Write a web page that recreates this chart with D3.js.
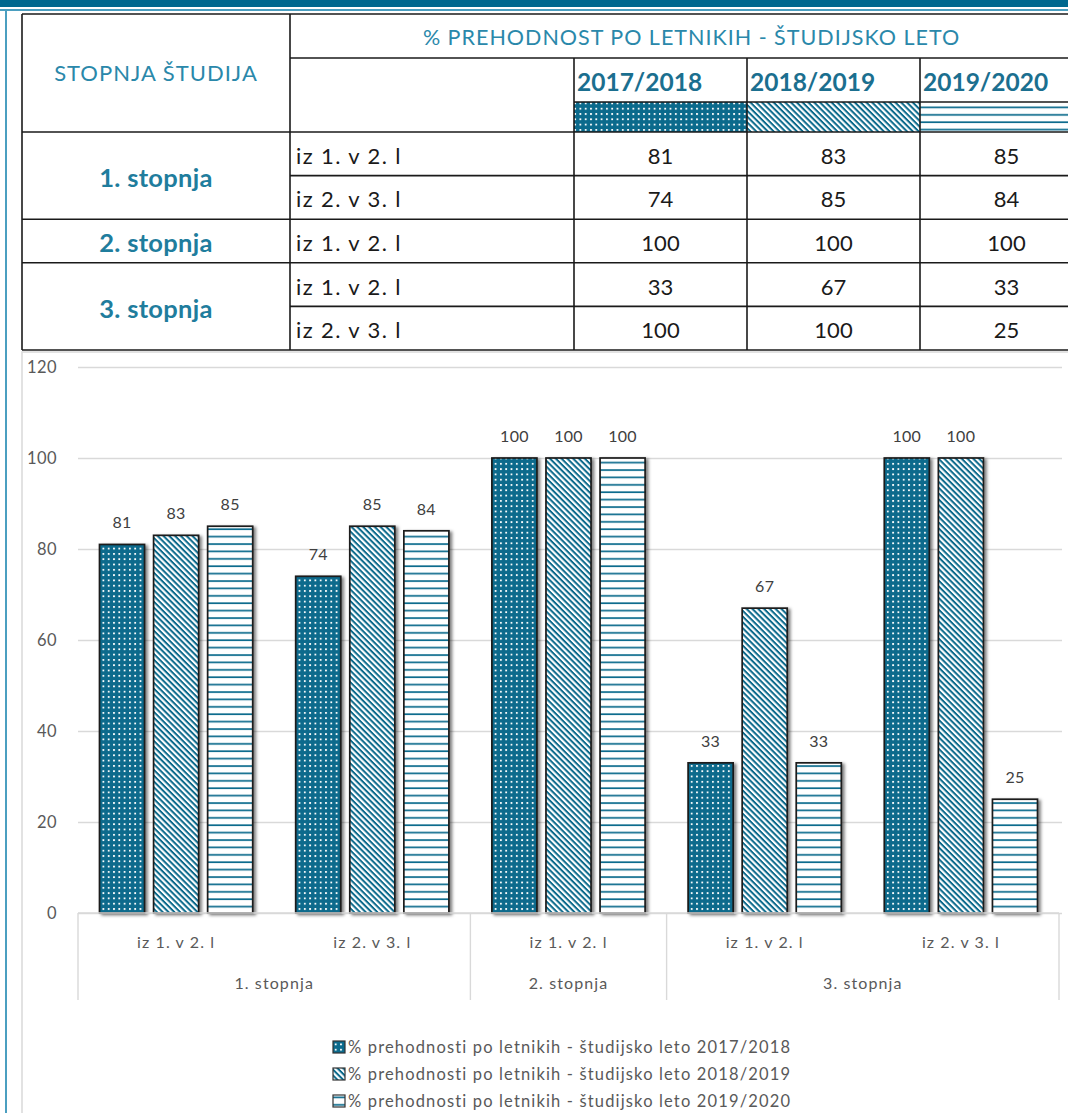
<!DOCTYPE html>
<html lang="sl">
<head>
<meta charset="UTF-8">
<title>Prehodnost po letnikih</title>
<style>
  body { margin: 0; background: #fff; }
  text { font-family: Lato, "Noto Sans", sans-serif; }
</style>
</head>
<body>
<svg id="chart" width="1068" height="1113"></svg>
<script src="https://d3js.org/d3.v7.min.js"></script>
<script>
/* global d3 */

const stages = ["1. stopnja", "1. stopnja", "2. stopnja", "3. stopnja", "3. stopnja"];
const rowLabels = ["iz 1. v 2. l", "iz 2. v 3. l", "iz 1. v 2. l", "iz 1. v 2. l", "iz 2. v 3. l"];
const years = ["2017/2018", "2018/2019", "2019/2020"];
const v2017 = [81, 74, 100, 33, 100];
const v2018 = [83, 85, 100, 67, 100];
const v2019 = [85, 84, 100, 33, 25];
const yTicks = [0, 20, 40, 60, 80, 100, 120];
const series = [v2017, v2018, v2019];

const teal = "#0b6a8c",
    textTeal = "#2a88aa",
    gray = "#595959",
    svg = d3.select("#chart");

// patterns: dots / diagonal / horizontal
const defs = svg.append("defs");
let p = defs.append("pattern").attr("id", "pat0").attr("patternUnits", "userSpaceOnUse")
    .attr("width", 5.3).attr("height", 5.3);
p.append("rect").attr("width", 5.3).attr("height", 5.3).attr("fill", teal);
p.append("rect").attr("x", 1.8).attr("y", 1.8).attr("width", 1.8).attr("height", 1.8).attr("fill", "#fff");

p = defs.append("pattern").attr("id", "pat1").attr("patternUnits", "userSpaceOnUse")
    .attr("width", 10).attr("height", 4.1).attr("patternTransform", "rotate(45)");
p.append("rect").attr("width", 10).attr("height", 4.1).attr("fill", "#fff");
p.append("rect").attr("width", 10).attr("height", 2).attr("fill", teal);

p = defs.append("pattern").attr("id", "pat2").attr("patternUnits", "userSpaceOnUse")
    .attr("width", 10).attr("height", 7.4);
p.append("rect").attr("width", 10).attr("height", 7.4).attr("fill", "#fff");
p.append("rect").attr("y", 3).attr("width", 10).attr("height", 1.7).attr("fill", teal);

const shadow = defs.append("filter").attr("id", "shadow")
    .attr("x", "-20%").attr("y", "-5%").attr("width", "150%").attr("height", "115%");
shadow.append("feDropShadow").attr("dx", 2.5).attr("dy", 1.5).attr("stdDeviation", 1.6)
    .attr("flood-color", "#000").attr("flood-opacity", 0.5);

// page frame
svg.append("rect").attr("x", 0).attr("y", 0).attr("width", 1068).attr("height", 7).attr("fill", "#00688f");
svg.append("rect").attr("x", 0).attr("y", 9).attr("width", 1068).attr("height", 2).attr("fill", "#4b9fc0");
svg.append("rect").attr("x", 5).attr("y", 9).attr("width", 2).attr("height", 1104).attr("fill", "#4b9fc0");

// ---------- table ----------
const tbl = svg.append("g"),
    colX = [22, 290, 574],
    yearX = d3.scaleBand().domain(years).range([574, 1093]),
    rowY = d3.scaleBand().domain(d3.range(rowLabels.length)).range([132, 350]),
    hdr = [14, 58, 102, 132];

// group consecutive rows by stage
const groups = [];
stages.forEach(function (s, i) {
    if (groups.length && groups[groups.length - 1].stage === s) groups[groups.length - 1].end = i;
    else groups.push({stage: s, start: i, end: i});
});

const line = function (x1, y1, x2, y2) {
    tbl.append("line").attr("x1", x1).attr("y1", y1).attr("x2", x2).attr("y2", y2)
        .attr("stroke", "#1a1a1a").attr("stroke-width", 1.6);
};

// swatches
years.forEach(function (yr, i) {
    tbl.append("rect").attr("x", yearX(yr)).attr("y", hdr[2]).attr("width", yearX.bandwidth())
        .attr("height", hdr[3] - hdr[2]).attr("fill", "url(#pat" + i + ")");
});

line(22, hdr[0], 1093, hdr[0]);
line(colX[1], hdr[1], 1093, hdr[1]);
line(colX[2], hdr[2], 1093, hdr[2]);
line(22, hdr[3], 1093, hdr[3]);
groups.forEach(function (g) {
    line(22, rowY(g.end) + rowY.step(), 1093, rowY(g.end) + rowY.step());
    d3.range(g.start, g.end).forEach(function (i) {
        line(colX[1], rowY(i) + rowY.step(), 1093, rowY(i) + rowY.step());
    });
});
line(22, hdr[0], 22, 350);
line(colX[1], hdr[0], colX[1], 350);
years.forEach(function (yr) { line(yearX(yr), hdr[1], yearX(yr), 350); });

tbl.append("text").attr("x", (colX[0] + colX[1]) / 2).attr("y", (hdr[0] + hdr[3]) / 2)
    .attr("dy", "0.36em").attr("text-anchor", "middle").attr("fill", textTeal)
    .attr("font-size", 22).attr("letter-spacing", 1).text("STOPNJA ŠTUDIJA");
tbl.append("text").attr("x", (colX[1] + 1093) / 2).attr("y", (hdr[0] + hdr[1]) / 2 + 1)
    .attr("dy", "0.36em").attr("text-anchor", "middle").attr("fill", textTeal)
    .attr("font-size", 21.5).attr("letter-spacing", 1).text("% PREHODNOST PO LETNIKIH - ŠTUDIJSKO LETO");
tbl.selectAll(".yr").data(years).join("text")
    .attr("x", function (d) { return yearX(d) + 3; })
    .attr("y", (hdr[1] + hdr[2]) / 2 + 2).attr("dy", "0.36em")
    .attr("fill", "#1b6f8f").attr("font-weight", 700).attr("font-size", 24.5)
    .text(function (d) { return d; });

tbl.selectAll(".stage").data(groups).join("text")
    .attr("x", (colX[0] + colX[1]) / 2)
    .attr("y", function (g) { return (rowY(g.start) + rowY(g.end) + rowY.step()) / 2 + 2; })
    .attr("dy", "0.36em").attr("text-anchor", "middle").attr("fill", "#1f7d9d")
    .attr("font-weight", 700).attr("font-size", 25.5).attr("letter-spacing", 0.3)
    .text(function (g) { return g.stage; });

tbl.selectAll(".rl").data(rowLabels).join("text")
    .attr("x", colX[1] + 6)
    .attr("y", function (d, i) { return rowY(i) + rowY.step() / 2 + 2; })
    .attr("dy", "0.36em").attr("fill", "#1a1a1a").attr("font-size", 22)
    .attr("letter-spacing", 1.4).text(function (d) { return d; });

years.forEach(function (yr, s) {
    tbl.selectAll(".v" + s).data(series[s]).join("text")
        .attr("x", yearX(yr) + yearX.bandwidth() / 2)
        .attr("y", function (d, i) { return rowY(i) + rowY.step() / 2 + 2; })
        .attr("dy", "0.36em").attr("text-anchor", "middle").attr("fill", "#1a1a1a")
        .attr("font-size", 22).text(function (d) { return d; });
});

// ---------- chart ----------
svg.append("rect").attr("x", 22).attr("y", 352).attr("width", 1100).attr("height", 800)
    .attr("fill", "none").attr("stroke", "#d9d9d9").attr("stroke-width", 1.5);

const y = d3.scaleLinear().domain([0, 120]).range([913, 367]),
    x0 = d3.scaleBand().domain(d3.range(rowLabels.length)).range([78, 1059]),
    x1 = d3.scaleBand().domain(years).range([21.5, x0.bandwidth() - 21.5]).paddingInner(0.167);

const yAxis = svg.append("g").attr("transform", "translate(78,0)")
    .call(d3.axisLeft(y).tickValues(yTicks).tickSize(-984).tickPadding(21));
yAxis.select(".domain").remove();
yAxis.selectAll("line").attr("stroke", "#d9d9d9").attr("stroke-width", 1.4);
yAxis.selectAll("text").attr("fill", gray).attr("font-size", 16.5)
    .attr("font-family", "Lato, sans-serif").attr("letter-spacing", 0.4);

// bars
years.forEach(function (yr, s) {
    const g = svg.append("g");
    g.selectAll("rect").data(series[s]).join("rect")
        .attr("x", function (d, i) { return x0(i) + x1(yr); })
        .attr("y", function (d) { return y(d); })
        .attr("width", x1.bandwidth())
        .attr("height", function (d) { return y(0) - y(d); })
        .attr("fill", "url(#pat" + s + ")")
        .attr("stroke", "#1a1a1a").attr("stroke-width", 1.7)
        .attr("filter", "url(#shadow)");
    g.selectAll("text").data(series[s]).join("text")
        .attr("x", function (d, i) { return x0(i) + x1(yr) + x1.bandwidth() / 2; })
        .attr("y", function (d) { return y(d) - 16; })
        .attr("text-anchor", "middle").attr("fill", "#404040").attr("font-size", 16)
        .attr("letter-spacing", 0.3).text(function (d) { return d; });
});

// category axis (two levels)
const xa = svg.append("g").attr("stroke", "#d9d9d9").attr("stroke-width", 1.4);
xa.append("line").attr("x1", 78).attr("x2", 1059).attr("y1", y(0)).attr("y2", y(0));
const seps = [0].concat(groups.map(function (g) { return g.end + 1; }));
xa.selectAll(".sep").data(seps).join("line")
    .attr("x1", function (i) { return x0(i) === undefined ? 1059 : x0(i); })
    .attr("x2", function (i) { return x0(i) === undefined ? 1059 : x0(i); })
    .attr("y1", y(0)).attr("y2", 1000);

svg.selectAll(".cat").data(rowLabels).join("text")
    .attr("x", function (d, i) { return x0(i) + x0.bandwidth() / 2; })
    .attr("y", 942).attr("dy", "0.36em").attr("text-anchor", "middle")
    .attr("fill", gray).attr("font-size", 16).attr("letter-spacing", 1.1)
    .text(function (d) { return d; });
svg.selectAll(".grp").data(groups).join("text")
    .attr("x", function (g) { return (x0(g.start) + x0(g.end) + x0.bandwidth()) / 2; })
    .attr("y", 983).attr("dy", "0.36em").attr("text-anchor", "middle")
    .attr("fill", gray).attr("font-size", 16).attr("letter-spacing", 1.1)
    .text(function (g) { return g.stage; });

// legend
const leg = svg.append("g").selectAll("g").data(years).join("g")
    .attr("transform", function (d, i) { return "translate(333," + (1047 + i * 27) + ")"; });
leg.append("rect").attr("x", 0).attr("y", -6).attr("width", 12).attr("height", 12)
    .attr("fill", function (d, i) { return "url(#pat" + i + ")"; })
    .attr("stroke", "#333").attr("stroke-width", 1.2);
leg.append("text").attr("x", 15).attr("dy", "0.36em").attr("fill", gray)
    .attr("font-size", 16.5).attr("letter-spacing", 1.15)
    .text(function (d) { return "% prehodnosti po letnikih - študijsko leto " + d; });
</script>
</body>
</html>
